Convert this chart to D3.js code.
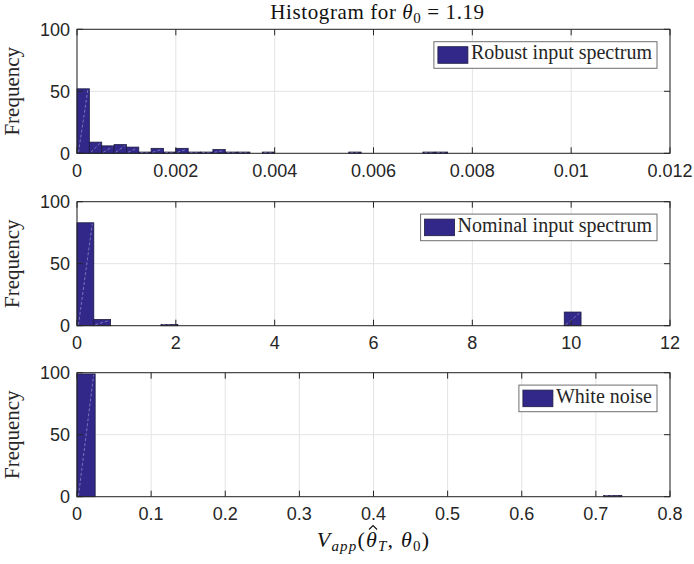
<!DOCTYPE html>
<html>
<head>
<meta charset="utf-8">
<script src="https://cdn.jsdelivr.net/npm/d3@7"></script>
<style>
  body { margin: 0; background: #fff; }
</style>
</head>
<body>
<div id="chart"></div>
<script>
// Conteos de cada histograma, un valor por bin
const robustCounts = [52, 9, 6, 7, 5, 1, 4, 1, 4, 1, 1, 3, 1, 1, 0, 1, 0, 0, 0, 0, 0, 0, 1, 0, 0, 0, 0, 0, 1, 1];
const robustBinWidth = 0.00025;
const nominalCounts = [83, 5, 0, 0, 0, 1, 0, 0, 0, 0, 0, 0, 0, 0, 0, 0, 0, 0, 0, 0, 0, 0, 0, 0, 0, 0, 0, 0, 0, 11];
const nominalBinWidth = 0.34;
const whiteCounts = [99, 0, 0, 0, 0, 0, 0, 0, 0, 0, 0, 0, 0, 0, 0, 0, 0, 0, 0, 0, 0, 0, 0, 0, 0, 0, 0, 0, 0, 1];
const whiteBinWidth = 0.0245;

// Marcas de los ejes
const robustTicks = [0, 0.002, 0.004, 0.006, 0.008, 0.01, 0.012];
const robustTickLabels = ["0", "0.002", "0.004", "0.006", "0.008", "0.01", "0.012"];
const nominalTicks = [0, 2, 4, 6, 8, 10, 12];
const nominalTickLabels = ["0", "2", "4", "6", "8", "10", "12"];
const whiteTicks = [0, 0.1, 0.2, 0.3, 0.4, 0.5, 0.6, 0.7, 0.8];
const whiteTickLabels = ["0", "0.1", "0.2", "0.3", "0.4", "0.5", "0.6", "0.7", "0.8"];
const yTicks = [0, 50, 100];
const yTickLabels = ["0", "50", "100"];
const legendLabels = ["Robust input spectrum", "Nominal input spectrum", "White noise"];

const width = 694, height = 564;
const left = 77, right = 670;
const panelTops = [29.3, 201.7, 372.7];
const panelHeight = 124;

const barColor = "#31288a";
const axisColor = "#262626";
const gridColor = "#e3e3e3";
const serif = "'Liberation Serif', 'DejaVu Serif', serif";
const sans = "'Liberation Sans', Arial, sans-serif";

const svg = d3.select("#chart").append("svg")
    .attr("width", width)
    .attr("height", height);

// Tabla de paneles construida a partir de los arreglos
const panels = [
    { counts: robustCounts, bw: robustBinWidth, ticks: robustTicks, labels: robustTickLabels, legend: legendLabels[0] },
    { counts: nominalCounts, bw: nominalBinWidth, ticks: nominalTicks, labels: nominalTickLabels, legend: legendLabels[1] },
    { counts: whiteCounts, bw: whiteBinWidth, ticks: whiteTicks, labels: whiteTickLabels, legend: legendLabels[2] }
];

const w = right - left, h = panelHeight;

panels.forEach((p, i) => {
    const g = svg.append("g").attr("transform", `translate(${left},${panelTops[i]})`);
    const x = d3.scaleLinear().domain([0, d3.max(p.ticks)]).range([0, w]);
    const y = d3.scaleLinear().domain([0, 100]).range([h, 0]);

    // rejilla
    g.selectAll(".gx").data(p.ticks).enter().append("line")
        .attr("x1", d => x(d)).attr("x2", d => x(d))
        .attr("y1", 0).attr("y2", h)
        .attr("stroke", gridColor).attr("stroke-width", 1);
    g.selectAll(".gy").data(yTicks).enter().append("line")
        .attr("x1", 0).attr("x2", w)
        .attr("y1", d => y(d)).attr("y2", d => y(d))
        .attr("stroke", gridColor).attr("stroke-width", 1);

    // barras
    const bins = p.counts.map((c, k) => ({ x0: k * p.bw, x1: (k + 1) * p.bw, count: c }))
        .filter(b => b.count > 0);

    g.selectAll(".bar").data(bins).enter().append("rect")
        .attr("x", d => x(d.x0))
        .attr("y", d => y(d.count))
        .attr("width", d => x(d.x1) - x(d.x0))
        .attr("height", d => y(0) - y(d.count))
        .attr("fill", barColor)
        .attr("stroke", "#1c1a40")
        .attr("stroke-width", 0.8);

    // línea de sombreado (hatch) de cada barra
    g.selectAll(".hatch").data(bins).enter().append("line")
        .attr("x1", d => x(d.x0) + 1.5).attr("y1", y(0) - 1)
        .attr("x2", d => x(d.x1) - 1.5).attr("y2", d => y(d.count) + 1)
        .attr("stroke", "#b4b0e0")
        .attr("stroke-width", 0.7)
        .attr("stroke-dasharray", "3,2")
        .attr("opacity", 0.8);

    // caja
    g.append("rect")
        .attr("x", 0).attr("y", 0).attr("width", w).attr("height", h)
        .attr("fill", "none").attr("stroke", axisColor).attr("stroke-width", 1);

    // marcas hacia dentro
    const tl = 6;
    p.ticks.forEach(t => {
        g.append("line").attr("x1", x(t)).attr("x2", x(t)).attr("y1", h).attr("y2", h - tl)
            .attr("stroke", axisColor);
        g.append("line").attr("x1", x(t)).attr("x2", x(t)).attr("y1", 0).attr("y2", tl)
            .attr("stroke", axisColor);
    });
    yTicks.forEach(t => {
        g.append("line").attr("x1", 0).attr("x2", tl).attr("y1", y(t)).attr("y2", y(t))
            .attr("stroke", axisColor);
        g.append("line").attr("x1", w).attr("x2", w - tl).attr("y1", y(t)).attr("y2", y(t))
            .attr("stroke", axisColor);
    });

    // etiquetas de las marcas
    g.selectAll(".xl").data(p.ticks).enter().append("text")
        .attr("x", d => x(d))
        .attr("y", h + 23.5)
        .attr("text-anchor", "middle")
        .attr("font-family", sans).attr("font-size", 18)
        .attr("fill", axisColor)
        .text((d, k) => p.labels[k]);
    g.selectAll(".yl").data(yTicks).enter().append("text")
        .attr("x", -7)
        .attr("y", d => y(d) + 6.5)
        .attr("text-anchor", "end")
        .attr("font-family", sans).attr("font-size", 18)
        .attr("fill", axisColor)
        .text((d, k) => yTickLabels[k]);

    // etiqueta del eje Y
    g.append("text")
        .attr("transform", `translate(${19 - left},${h / 2}) rotate(-90)`)
        .attr("text-anchor", "middle")
        .attr("font-family", serif).attr("font-size", 21)
        .attr("fill", axisColor)
        .text("Frequency");

    // leyenda
    const lg = g.append("g");
    const lt = lg.append("text")
        .attr("font-family", serif).attr("font-size", 20)
        .attr("fill", axisColor)
        .text(p.legend);
    const tw = lt.node().getComputedTextLength();
    const boxW = 4 + 30 + 3 + tw + 5, boxH = 26.6;
    const bx = w - 13 - boxW, by = 12.4;
    lg.insert("rect", "text")
        .attr("x", bx).attr("y", by).attr("width", boxW).attr("height", boxH)
        .attr("fill", "#fff").attr("stroke", "#6e6e6e").attr("stroke-width", 1);
    lg.insert("rect", "text")
        .attr("x", bx + 4).attr("y", by + 5).attr("width", 30).attr("height", boxH - 10)
        .attr("fill", barColor).attr("stroke", "#1c1a40").attr("stroke-width", 0.8);
    lt.attr("x", bx + 37).attr("y", by + 17.8);
});

// título
const title = svg.append("text")
    .attr("x", (left + right) / 2 + 4).attr("y", 18.5)
    .attr("text-anchor", "middle")
    .attr("font-family", serif).attr("font-size", 21)
    .attr("letter-spacing", 0.6)
    .attr("fill", "#111");
title.append("tspan").text("Histogram for ");
title.append("tspan").attr("font-style", "italic").text("θ");
title.append("tspan").attr("font-size", 15).attr("dy", 4).text("0");
title.append("tspan").attr("dy", -4).text("  =  1.19");

// etiqueta del eje X
const xlab = svg.append("text")
    .attr("x", (left + right) / 2).attr("y", 547)
    .attr("text-anchor", "middle")
    .attr("font-family", serif).attr("font-size", 22)
    .attr("letter-spacing", 1.2)
    .attr("fill", "#111");
xlab.append("tspan").attr("font-style", "italic").text("V");
xlab.append("tspan").attr("font-style", "italic").attr("font-size", 15).attr("dy", 4).text("app");
xlab.append("tspan").attr("dy", -4).text("(");
xlab.append("tspan").attr("font-style", "italic").text("θ");
xlab.append("tspan").attr("font-style", "italic").attr("font-size", 15).attr("dy", 4).text("T");
xlab.append("tspan").attr("dy", -4).text(", ");
xlab.append("tspan").attr("font-style", "italic").text("θ");
xlab.append("tspan").attr("font-size", 15).attr("dy", 4).text("0");
xlab.append("tspan").attr("dy", -4).text(")");

// acento circunflejo sobre la primera theta (índice de carácter 5)
const ext = xlab.node().getExtentOfChar(5);
const hx = ext.x + ext.width / 2 + 1;
svg.append("path")
    .attr("d", `M${hx - 4},${529.5} L${hx},${525.5} L${hx + 4},${529.5}`)
    .attr("fill", "none")
    .attr("stroke", "#111")
    .attr("stroke-width", 1.1);
</script>
</body>
</html>
